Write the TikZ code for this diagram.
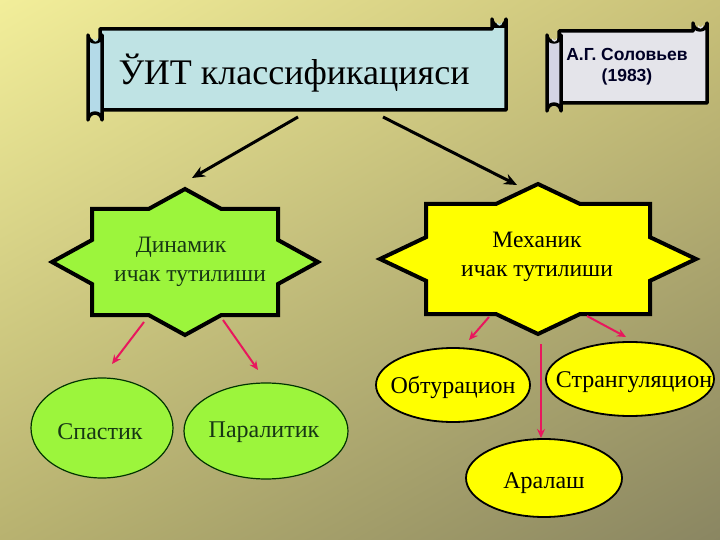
\documentclass[tikz,border=0pt]{standalone}
\usepackage{fontspec}
\setmainfont{Liberation Serif}
\newfontfamily\sansbold{Liberation Sans}
\usetikzlibrary{arrows.meta,shadings,shapes.geometric}
\definecolor{bgUL}{HTML}{F2EE9A}
\definecolor{bgUR}{HTML}{C8C078}
\definecolor{bgLL}{HTML}{B8B270}
\definecolor{bgLR}{HTML}{8A8662}
\definecolor{scrollblue}{HTML}{BFE3E4}
\definecolor{rollblue}{HTML}{B4DAE8}
\definecolor{scrollgrey}{HTML}{E4E4EA}
\definecolor{rollgrey}{HTML}{D4D4E4}
\definecolor{limegreen}{HTML}{9CF53C}
\definecolor{brightyellow}{HTML}{FFFF00}
\definecolor{arrowred}{HTML}{E8175D}
\definecolor{darkgreentext}{HTML}{173614}
\tikzset{
  scrollline/.style={line width=3.5pt, line join=round},
  curlcap/.style={fill=black, draw=black, line width=1.5pt},
  curlarc/.style={line width=1.2pt, line cap=round},
  starline/.style={line width=4pt, line join=miter},
  mainarrow/.style={line width=3pt, -{Stealth[length=13pt,width=11pt]}},
  redarrow/.style={line width=2pt, draw=arrowred, -{Stealth[length=9pt,width=8pt]}},
  greenell/.style={draw=black!80!green, line width=1.2pt, fill=limegreen},
  yellowell/.style={draw=black, line width=1.8pt, fill=brightyellow},
  leaftext/.style={font=\fontsize{24}{26}\selectfont},
  startext/.style={font=\fontsize{23.5}{29}\selectfont, align=center}
}
\begin{document}
\begin{tikzpicture}[x=1pt,y=-1pt]
\useasboundingbox (0,0) rectangle (720,540);
\shade[upper left=bgUL, upper right=bgUR, lower left=bgLL, lower right=bgLR] (0,0) rectangle (720,540);

% ---- title scroll ----
\draw[scrollline, fill=scrollblue] (100,29) -- (492,29) -- (492,19) arc[start angle=180,end angle=0,radius=7] -- (506,110) -- (100,110) -- cycle;
\fill[black] (492,28) -- (492,19) arc[start angle=180,end angle=0,radius=7] -- (506,28) -- cycle;
\draw[curlarc, scrollblue] (497.5,23) arc[start angle=180,end angle=0,radius=2];
\draw[scrollline, fill=rollblue] (88,35) arc[start angle=180,end angle=0,radius=7] -- (102,120) arc[start angle=0,end angle=-180,radius=7] -- cycle;
\fill[black] (88,41) -- (88,35) arc[start angle=180,end angle=0,radius=7] -- (102,41) -- cycle;
\draw[curlarc, scrollblue] (93.5,39) arc[start angle=180,end angle=0,radius=2];
\node[font=\fontsize{36}{40}\selectfont, anchor=base] (title) at (294,85) {ЎИТ классификацияси};

% ---- author scroll ----
\draw[scrollline, fill=scrollgrey] (559,31) -- (693,31) -- (693,23) arc[start angle=180,end angle=0,radius=7] -- (707,103) -- (559,103) -- cycle;
\fill[black] (693,30) -- (693,23) arc[start angle=180,end angle=0,radius=7] -- (707,30) -- cycle;
\draw[curlarc, scrollgrey] (698.5,26) arc[start angle=180,end angle=0,radius=2];
\draw[scrollline, fill=rollgrey] (547,35) arc[start angle=180,end angle=0,radius=7] -- (561,111) arc[start angle=0,end angle=-180,radius=7] -- cycle;
\fill[black] (547,41) -- (547,35) arc[start angle=180,end angle=0,radius=7] -- (561,41) -- cycle;
\draw[curlarc, scrollgrey] (552.5,39) arc[start angle=180,end angle=0,radius=2];
\node[font=\sansbold\bfseries\fontsize{17.5}{21}\selectfont, align=center, text=black!85!blue] (author) at (627,67) {А.Г. Соловьев\\(1983)};

% ---- green star ----
\begin{scope}[shift={(185,262)}]
\draw[starline, fill=limegreen] (0,-73) -- (36.4,-53) -- (93,-53) -- (93,-22) -- (133,0) -- (93,22) -- (93,53) -- (36.4,53) -- (0,73) -- (-36.4,53) -- (-93,53) -- (-93,22) -- (-133,0) -- (-93,-22) -- (-93,-53) -- (-36.4,-53) -- cycle;
\end{scope}
\node[startext, text=darkgreentext] (dyn) at (190,262) {Динамик\hspace*{18pt}\\ичак тутилиши};

% ---- yellow star ----
\begin{scope}[shift={(538,259)}]
\draw[starline, fill=brightyellow] (0,-75) -- (42.1,-55) -- (112,-55) -- (112,-21.8) -- (158,0) -- (112,21.8) -- (112,55) -- (42.1,55) -- (0,75) -- (-42.1,55) -- (-112,55) -- (-112,21.8) -- (-158,0) -- (-112,-21.8) -- (-112,-55) -- (-42.1,-55) -- cycle;
\end{scope}
\node[startext] (mech) at (537,257) {Механик\\ичак тутилиши};

% ---- leaves ----
\node[greenell, ellipse, minimum width=142pt, minimum height=100pt, inner sep=0pt] (spas) at (102,428) {};
\node[greenell, ellipse, minimum width=164pt, minimum height=96pt, inner sep=0pt] (para) at (266,431) {};
\node[leaftext, text=darkgreentext] (spast) at (100,432) {Спастик};
\node[leaftext, text=darkgreentext] (parat) at (264,432) {Паралитик};

\node[yellowell, ellipse, minimum width=154pt, minimum height=74pt, inner sep=0pt] (obt) at (453,385) {};
\node[yellowell, ellipse, minimum width=168pt, minimum height=74pt, inner sep=0pt] (str) at (630,379) {};
\node[yellowell, ellipse, minimum width=156pt, minimum height=78pt, inner sep=0pt] (ara) at (544,478) {};
\node[leaftext] (obtt) at (453,387) {Обтурацион};
\node[leaftext] (strt) at (634,382) {Странгуляцион};
\node[leaftext] (arat) at (544,483) {Аралаш};

% ---- connector end points ----
\coordinate (t1) at (298,117);
\coordinate (t1e) at (192,178);
\coordinate (t2) at (383,117);
\coordinate (t2e) at (517,185);
\coordinate (d1) at (144,322);
\coordinate (d1e) at (112,364);
\coordinate (d2) at (223,320);
\coordinate (d2e) at (258,370);
\coordinate (m1) at (489,317);
\coordinate (m1e) at (469,340);
\coordinate (m2) at (587,316);
\coordinate (m2e) at (626,337);
\coordinate (m3) at (541,344);
\coordinate (m3e) at (541,438);

\draw[mainarrow] (t1) -- (t1e);
\draw[mainarrow] (t2) -- (t2e);
\draw[redarrow] (d1) -- (d1e);
\draw[redarrow] (d2) -- (d2e);
\draw[redarrow] (m1) -- (m1e);
\draw[redarrow] (m2) -- (m2e);
\draw[redarrow] (m3) -- (m3e);
\end{tikzpicture}
\end{document}
